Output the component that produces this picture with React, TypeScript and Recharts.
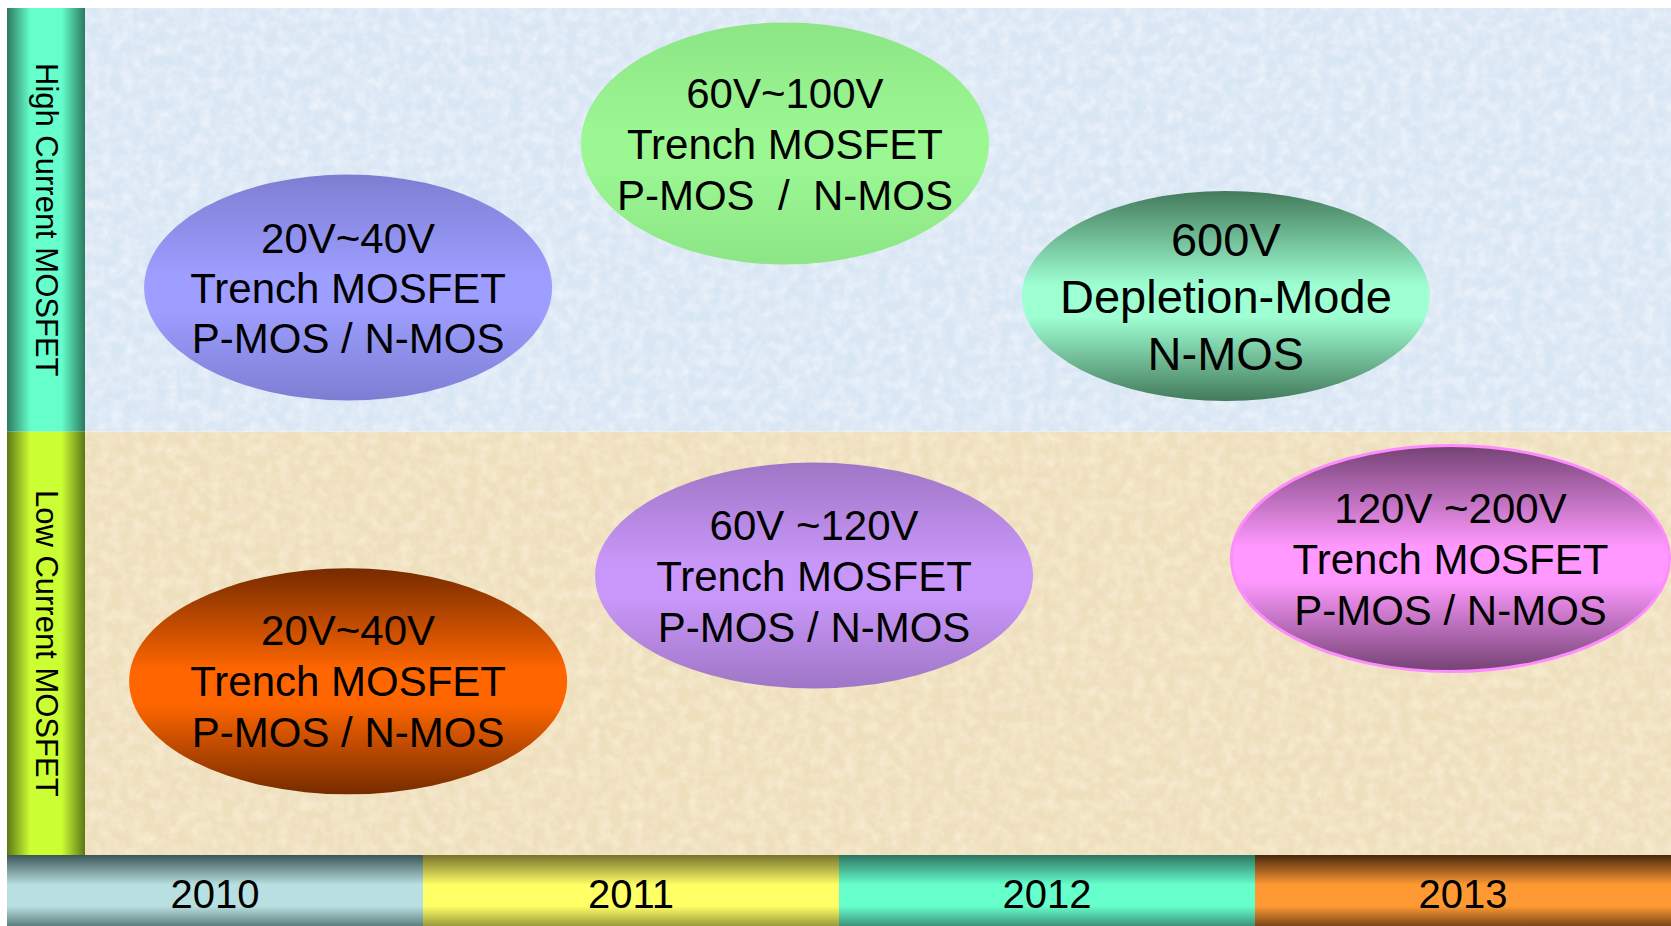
import React from 'react'
import { ScatterChart, Scatter, XAxis, YAxis, ReferenceArea } from 'recharts'

// timeline columns and the two swim-lanes (y 0-1 low, 1-2 high)
const years = ['2010', '2011', '2012', '2013']
const laneNames = ['Low Current MOSFET', 'High Current MOSFET']
const laneFloor = [0, 1]

// product bubbles: position on the timeline (year) and height inside the lanes
const productYear = [2010.82, 2011.87, 2012.93, 2010.82, 2011.94, 2013.47]
const productLevel = [1.34, 1.68, 1.32, 0.41, 0.66, 0.7]
const productLines = [
  ['20V~40V', 'Trench MOSFET', 'P-MOS / N-MOS'],
  ['60V~100V', 'Trench MOSFET', 'P-MOS  /  N-MOS'],
  ['600V', 'Depletion-Mode', 'N-MOS'],
  ['20V~40V', 'Trench MOSFET', 'P-MOS / N-MOS'],
  ['60V ~120V', 'Trench MOSFET', 'P-MOS / N-MOS'],
  ['120V ~200V', 'Trench MOSFET', 'P-MOS / N-MOS'],
]

const W = 1671
const H = 926
const margin = { top: 8, right: 0, bottom: 0, left: 7 }
const YEAR_BAR_H = 71
const SEG_W = (W - margin.left - margin.right) / years.length
const LABEL_COL = 78 / SEG_W // left lane-label column, in year units
const FONT = '"Liberation Sans", Arial, Helvetica, sans-serif'

const bubbleStyles = [
  { rx: 204, ry: 113, edge: '#7d7ed2', mid: '#9d9eff', fs: 42, gap: 50 },
  { rx: 204, ry: 121, edge: '#8de585', mid: '#9af792', fs: 42, gap: 51 },
  { rx: 204, ry: 105, edge: '#437a5c', mid: '#9effd3', fs: 47, gap: 57 },
  { rx: 219, ry: 113, edge: '#762b00', mid: '#ff6600', fs: 42, gap: 51 },
  { rx: 219, ry: 113, edge: '#9f76c6', mid: '#c997f9', fs: 42, gap: 51 },
  { rx: 219, ry: 113, edge: '#744274', mid: '#ff99ff', fs: 42, gap: 51, stroke: '#ff8cff' },
]

const yearStyles = [
  { edge: '#3a5557', mid: '#b9e0e0', low: '#5d7f80' },
  { edge: '#76732d', mid: '#ffff66', low: '#9a9a3c' },
  { edge: '#2c7560', mid: '#66ffcc', low: '#3d9277' },
  { edge: '#48280c', mid: '#ff9933', low: '#7a4716' },
]

const laneStyles = [
  { bg: '#eedfbd', grain: '#fbf1da', amount: 0.5, edge: '#5c7716', mid: '#ccff33' },
  { bg: '#d9e6f4', grain: '#f4f8fd', amount: 0.6, edge: '#2b7a5f', mid: '#66ffcc' },
]

const products = productYear.map((x, i) => ({ x, y: productLevel[i], lines: productLines[i], i }))

const Bubble = (props: any) => {
  const { cx, cy, payload } = props
  const s = bubbleStyles[payload.i]
  const n = payload.lines.length
  return (
    <g>
      <ellipse cx={cx} cy={cy} rx={s.rx} ry={s.ry} fill={`url(#bub${payload.i})`}
        stroke={s.stroke || 'none'} strokeWidth={s.stroke ? 3 : 0} />
      {payload.lines.map((t: string, k: number) => (
        <text key={k} x={cx} y={cy + (k - (n - 1) / 2) * s.gap + s.fs * 0.358}
          textAnchor="middle" fontFamily={FONT} fontSize={s.fs} fill="#000"
          style={{ whiteSpace: 'pre' }}>
          {t}
        </text>
      ))}
    </g>
  )
}

const YearTick = (props: any) => {
  const { x, y, payload } = props
  const idx = Math.floor(payload.value) - Number(years[0])
  return (
    <g>
      <rect x={x - SEG_W / 2} y={y} width={SEG_W} height={YEAR_BAR_H} fill={`url(#yr${idx})`} />
      <text x={x} y={y + 53} textAnchor="middle" fontFamily={FONT} fontSize={40} fill="#000">
        {years[idx]}
      </text>
    </g>
  )
}

const laneLabel = (i: number) => (props: any) => {
  const { x, y, width, height } = props
  const cx = x + width / 2
  const cy = y + height / 2
  return (
    <g>
      <rect x={x} y={y} width={width} height={height} fill={`url(#lane${i})`} />
      <text x={cx} y={cy} transform={`rotate(90 ${cx} ${cy})`} textAnchor="middle"
        dominantBaseline="central" fontFamily={FONT} fontSize={31} fill="#000">
        {laneNames[i]}
      </text>
    </g>
  )
}

export default function App() {
  return (
    <div style={{ width: W, height: H, background: '#fff' }}>
      <style>{'body{margin:0;overflow:hidden;background:#fff}'}</style>
      <ScatterChart width={W} height={H} margin={margin}>
        <defs>
          {bubbleStyles.map((s, i) => (
            <linearGradient key={i} id={`bub${i}`} x1="0" y1="0" x2="0" y2="1">
              <stop offset="0" stopColor={s.edge} />
              <stop offset="0.45" stopColor={s.mid} />
              <stop offset="0.6" stopColor={s.mid} />
              <stop offset="1" stopColor={s.edge} />
            </linearGradient>
          ))}
          {yearStyles.map((s, i) => (
            <linearGradient key={i} id={`yr${i}`} x1="0" y1="0" x2="0" y2="1">
              <stop offset="0" stopColor={s.edge} />
              <stop offset="0.42" stopColor={s.mid} />
              <stop offset="0.72" stopColor={s.mid} />
              <stop offset="1" stopColor={s.low} />
            </linearGradient>
          ))}
          {laneStyles.map((s, i) => (
            <linearGradient key={i} id={`lane${i}`} x1="0" y1="0" x2="1" y2="0">
              <stop offset="0" stopColor={s.edge} />
              <stop offset="0.3" stopColor={s.mid} />
              <stop offset="0.7" stopColor={s.mid} />
              <stop offset="1" stopColor={s.edge} />
            </linearGradient>
          ))}
          {laneStyles.map((s, i) => (
            <filter key={i} id={`grain${i}`} x="0" y="0" width="1" height="1">
              <feTurbulence type="fractalNoise" baseFrequency="0.09" numOctaves={3} seed={3 + i} />
              <feColorMatrix type="matrix"
                values={`0 0 0 0 0  0 0 0 0 0  0 0 0 0 0  1.3 0 0 0 -0.45`} result="a" />
              <feFlood floodColor={s.grain} />
              <feComposite in2="a" operator="in" />
            </filter>
          ))}
        </defs>
        <XAxis type="number" dataKey="x" domain={[Number(years[0]), Number(years[0]) + years.length]}
          ticks={years.map((y) => Number(y) + 0.5)} interval={0} height={YEAR_BAR_H}
          axisLine={false} tickLine={false} tickSize={0} tickMargin={0} tick={<YearTick />} />
        <YAxis type="number" dataKey="y" domain={[0, 2]} hide />
        {laneNames.map((_, i) => (
          <ReferenceArea key={`bg${i}`} y1={laneFloor[i]} y2={laneFloor[i] + 1}
            fill={laneStyles[i].bg} fillOpacity={1} stroke="none" />
        ))}
        {laneNames.map((_, i) => (
          <ReferenceArea key={`gr${i}`} y1={laneFloor[i]} y2={laneFloor[i] + 1}
            fill="#fff" fillOpacity={laneStyles[i].amount} stroke="none" filter={`url(#grain${i})`} />
        ))}
        {laneNames.map((_, i) => (
          <ReferenceArea key={`lb${i}`} x1={Number(years[0])} x2={Number(years[0]) + LABEL_COL}
            y1={laneFloor[i]} y2={laneFloor[i] + 1} shape={laneLabel(i)} />
        ))}
        <Scatter data={products} shape={<Bubble />} isAnimationActive={false} />
      </ScatterChart>
    </div>
  )
}
